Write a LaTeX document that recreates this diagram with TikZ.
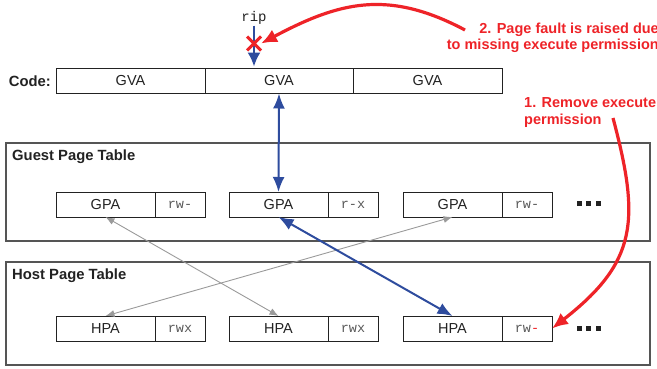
\documentclass[tikz,border=0pt]{standalone}
\usepackage{fontspec}
\setmainfont{Liberation Sans}
\setmonofont{Liberation Mono}
\usetikzlibrary{arrows.meta,positioning,shapes.misc}
\definecolor{vmBlue}{HTML}{2E4C9E}
\definecolor{vmRed}{HTML}{EE2328}
\definecolor{vmGray}{HTML}{9A9A9A}
\definecolor{vmFrame}{HTML}{555555}
\definecolor{vmInk}{HTML}{222222}

\begin{document}
\begin{tikzpicture}[
  x=1pt, y=1pt,
  >=Latex,
  cell/.style={draw=vmInk, line width=1pt, minimum height=25pt, inner sep=0pt,
    outer sep=0pt, text=vmInk, font=\fontsize{14.5}{16}\selectfont},
  perm/.style={cell, minimum width=50pt, text=black!65,
    font=\ttfamily\fontsize{13.5}{16}\selectfont},
  frame/.style={draw=vmFrame, line width=1.2pt, inner sep=0pt},
  title/.style={font=\bfseries\fontsize{14.8}{16}\selectfont, text=vmInk, inner sep=0pt},
  note/.style={text=vmRed, font=\bfseries\fontsize{14.5}{16.5}\selectfont, inner sep=0pt},
  more/.style={inner sep=0pt, text=vmInk},
  bluelink/.style={{Latex[length=15pt,width=12pt]}-{Latex[length=15pt,width=12pt]},
    line width=2pt, draw=vmBlue},
  graylink/.style={{Latex[length=9pt,width=7pt]}-{Latex[length=9pt,width=7pt]},
    line width=.9pt, draw=vmGray},
  redflow/.style={-{Latex[length=16pt,width=14pt]}, line width=3.2pt, draw=vmRed},
  ripflow/.style={-{Latex[length=14pt,width=13pt]}, line width=2pt, draw=vmBlue}
]
  \useasboundingbox (0,0) rectangle (657,368);

  % code row
  \node[title, anchor=east] (code) at (51,287) {Code:};
  \node[cell, minimum width=149pt] (gva1) at (130.5,287) {GVA};
  \node[cell, minimum width=148pt, right=0pt of gva1] (gva2) {GVA};
  \node[cell, minimum width=149pt, right=0pt of gva2] (gva3) {GVA};
  \node[inner sep=1pt, font=\ttfamily\fontsize{14}{16}\selectfont, text=vmInk] (rip) at (254,350) {rip};

  % guest page table
  \node[frame, minimum width=644pt, minimum height=98pt] (guest) at (328,176) {};
  \node[title, anchor=west] (guestlbl) at (12,211) {Guest Page Table};
  \node[cell, minimum width=99pt] (gpa1) at (105.5,163.5) {GPA};
  \node[perm, right=0pt of gpa1] (gpd1) {rw-};
  \node[cell, minimum width=99pt, right=24pt of gpd1] (gpa2) {GPA};
  \node[perm, right=0pt of gpa2] (gpd2) {r-x};
  \node[cell, minimum width=99pt, right=25pt of gpd2] (gpa3) {GPA};
  \node[perm, right=0pt of gpa3] (gpd3) {rw-};
  \node[more] (gmore) at (588.5,164.5) {\rule{5pt}{5pt}\hspace{4.5pt}\rule{5pt}{5pt}\hspace{4.5pt}\rule{5pt}{5pt}};

  % host page table
  \node[frame, minimum width=644pt, minimum height=103pt] (host) at (328,54.5) {};
  \node[title, anchor=west] (hostlbl) at (12,92) {Host Page Table};
  \node[cell, minimum width=99pt] (hpa1) at (105.5,39.5) {HPA};
  \node[perm, right=0pt of hpa1] (hpd1) {rwx};
  \node[cell, minimum width=99pt, right=24pt of hpd1] (hpa2) {HPA};
  \node[perm, right=0pt of hpa2] (hpd2) {rwx};
  \node[cell, minimum width=99pt, right=25pt of hpd2] (hpa3) {HPA};
  \node[perm, right=0pt of hpa3] (hpd3) {rw\textcolor{vmRed}{-}};
  \node[more] (hmore) at (588.5,40) {\rule{5pt}{5pt}\hspace{4.5pt}\rule{5pt}{5pt}\hspace{4.5pt}\rule{5pt}{5pt}};

  % notes
  \node[note, anchor=west, align=left] (note1) at (524,255.5) {1. Remove execute\\permission};
  \node[note, anchor=east, align=right] (note2) at (659,330) {2. Page fault is raised due\\to missing execute permission};
  \coordinate (s1) at (613,250);
  \coordinate (s2) at (465,338);

  % mappings
  \draw[graylink] (gpa1.south) -- (hpa2.north);
  \draw[graylink] (gpa3.south) -- (hpa1.north);
  \draw[bluelink] (gva2.south) -- (gpa2.north);
  \draw[bluelink] (gpa2.south) -- (hpa3.north);
  \draw[ripflow, shorten >=2pt] (rip.south) -- (rip.south |- gva2.north);
  \node[cross out, draw=vmRed, line width=3pt, minimum size=11pt, inner sep=0pt] (xmark) at (254,324.5) {};
  \draw[redflow] (s2) to[out=152, in=28, looseness=1.1] (xmark.east);
  \draw[redflow] (s1) to[out=-75, in=38, looseness=1.25] (hpd3.east);
\end{tikzpicture}
\end{document}
